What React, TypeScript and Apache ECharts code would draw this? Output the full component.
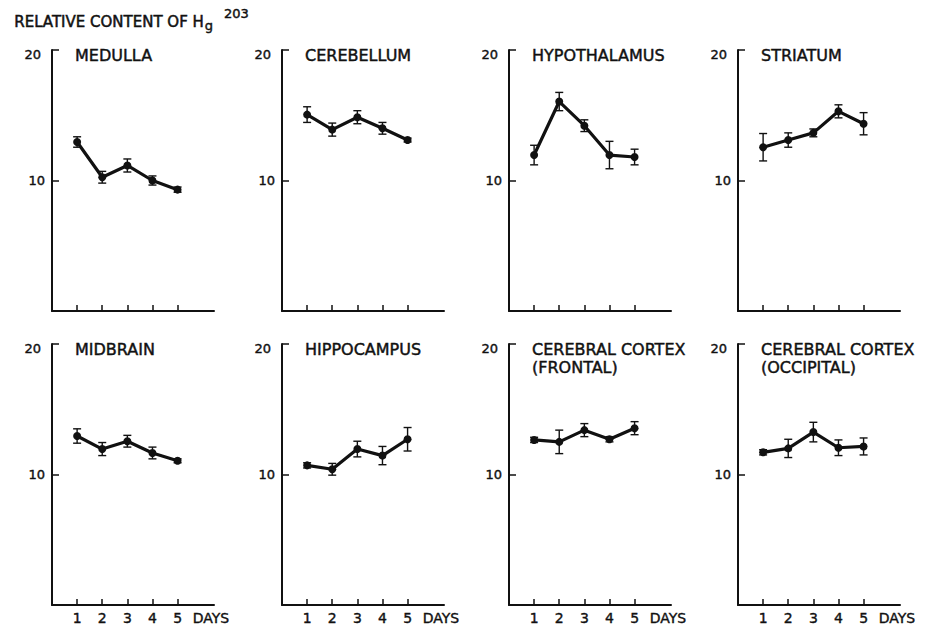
import React, { useEffect, useRef } from "react";
import * as echarts from "echarts";

// ---- data ----
const days = [1, 2, 3, 4, 5];
const panelNames = [
  "MEDULLA",
  "CEREBELLUM",
  "HYPOTHALAMUS",
  "STRIATUM",
  "MIDBRAIN",
  "HIPPOCAMPUS",
  "CEREBRAL CORTEX\n(FRONTAL)",
  "CEREBRAL CORTEX\n(OCCIPITAL)",
];
const medullaMean = [12.95, 10.25, 11.15, 10.0, 9.3];
const medullaErr = [0.4, 0.45, 0.5, 0.35, 0.2];
const cerebellumMean = [15.05, 13.9, 14.85, 14.0, 13.1];
const cerebellumErr = [0.6, 0.5, 0.5, 0.45, 0.15];
const hypothalamusMean = [11.95, 16.05, 14.2, 11.95, 11.8];
const hypothalamusErr = [0.75, 0.7, 0.45, 1.05, 0.6];
const striatumMean = [12.55, 13.1, 13.65, 15.3, 14.35];
const striatumErr = [1.05, 0.55, 0.3, 0.5, 0.85];
const midbrainMean = [12.95, 11.95, 12.55, 11.65, 11.05];
const midbrainErr = [0.55, 0.5, 0.45, 0.45, 0.15];
const hippocampusMean = [10.7, 10.4, 11.95, 11.45, 12.7];
const hippocampusErr = [0.2, 0.45, 0.6, 0.7, 0.9];
const frontalMean = [12.65, 12.5, 13.4, 12.7, 13.55];
const frontalErr = [0.2, 0.9, 0.5, 0.2, 0.5];
const occipitalMean = [11.7, 12.0, 13.25, 12.05, 12.15];
const occipitalErr = [0.2, 0.7, 0.75, 0.6, 0.65];
const yTickValues = [10, 20];
const daysLabel = "DAYS";
const headerText = "RELATIVE CONTENT OF H";
const headerSub = "g";
const headerSup = "203";

const means = [
  medullaMean,
  cerebellumMean,
  hypothalamusMean,
  striatumMean,
  midbrainMean,
  hippocampusMean,
  frontalMean,
  occipitalMean,
];
const errs = [
  medullaErr,
  cerebellumErr,
  hypothalamusErr,
  striatumErr,
  midbrainErr,
  hippocampusErr,
  frontalErr,
  occipitalErr,
];

// ---- layout ----
const FONT = '"DejaVu Sans", sans-serif';
const INK = "#111";
const AX = [52, 282, 509, 738];
const TOPS = [50, 344];
const GW = 162;
const GH = 261;
const XMAX = 6.45;
const DAYS_POS = 6.33;
const BOLDEN = { textBorderColor: INK, textBorderWidth: 0.45 };

function measure(text: string, size: number) {
  const c = document.createElement("canvas").getContext("2d");
  if (!c) return text.length * size * 0.65;
  c.font = `${size}px "DejaVu Sans"`;
  return c.measureText(text).width;
}

export default function App() {
  const ref = useRef<HTMLDivElement>(null);
  useEffect(() => {
    if (!ref.current) return;
    const chart = echarts.init(ref.current, null, { renderer: "svg" });

    const grid: any[] = [];
    const xAxis: any[] = [];
    const yAxis: any[] = [];
    const series: any[] = [];
    const title: any[] = [];

    means.forEach((m, i) => {
      const r = Math.floor(i / 4);
      const c = i % 4;
      grid.push({ left: AX[c], top: TOPS[r], width: GW, height: GH });
      xAxis.push({
        type: "value",
        gridIndex: i,
        min: 0,
        max: XMAX,
        splitLine: { show: false },
        axisLine: { onZero: false, lineStyle: { color: INK, width: 2 } },
        axisTick: {
          show: true,
          inside: true,
          length: 6,
          customValues: days,
          lineStyle: { color: INK, width: 1.5 },
        },
        axisLabel: {
          show: r === 1,
          customValues: [...days, DAYS_POS],
          formatter: (v: number) => (v > 5.5 ? daysLabel : String(v)),
          margin: 6,
          color: INK,
          fontFamily: FONT,
          fontSize: 14,
          ...BOLDEN,
          textBorderWidth: 0.4,
        },
      });
      yAxis.push({
        type: "value",
        gridIndex: i,
        min: 0,
        max: 20,
        splitLine: { show: false },
        axisLine: { onZero: false, lineStyle: { color: INK, width: 2 } },
        axisTick: {
          show: true,
          inside: true,
          length: 7,
          customValues: yTickValues,
          lineStyle: { color: INK, width: 1.5 },
        },
        axisLabel: {
          customValues: yTickValues,
          margin: 7,
          color: INK,
          fontFamily: FONT,
          fontSize: 13,
          formatter: (v: number) => (v === 20 ? "{a|20}" : "{b|" + v + "}"),
          rich: {
            a: { fontFamily: FONT, fontSize: 13, color: INK, padding: [8, 4, 0, 0], ...BOLDEN, textBorderWidth: 0.4 },
            b: { fontFamily: FONT, fontSize: 13, color: INK, ...BOLDEN, textBorderWidth: 0.4 },
          },
        },
      });
      series.push({
        type: "custom",
        xAxisIndex: i,
        yAxisIndex: i,
        data: days.map((d, j) => [d, m[j] - errs[i][j], m[j] + errs[i][j]]),
        encode: { x: 0, y: [1, 2] },
        renderItem: (params: any, api: any) => {
          const x = api.value(0);
          const lo = api.coord([x, api.value(1)]);
          const hi = api.coord([x, api.value(2)]);
          const w = 4;
          const st = { stroke: INK, lineWidth: 1.4 };
          return {
            type: "group",
            children: [
              { type: "line", shape: { x1: lo[0], y1: lo[1], x2: hi[0], y2: hi[1] }, style: st },
              { type: "line", shape: { x1: lo[0] - w, y1: lo[1], x2: lo[0] + w, y2: lo[1] }, style: st },
              { type: "line", shape: { x1: hi[0] - w, y1: hi[1], x2: hi[0] + w, y2: hi[1] }, style: st },
            ],
          };
        },
        z: 3,
      });
      series.push({
        type: "line",
        xAxisIndex: i,
        yAxisIndex: i,
        data: days.map((d, j) => [d, m[j]]),
        symbol: "circle",
        symbolSize: 8,
        lineStyle: { color: INK, width: 3.2 },
        itemStyle: { color: INK },
        z: 4,
      });
      title.push({
        text: panelNames[i],
        left: AX[c] + 23,
        top: TOPS[r] - 4,
        padding: 0,
        textStyle: {
          fontFamily: FONT,
          fontSize: 16,
          fontWeight: "normal",
          color: INK,
          lineHeight: 18,
          ...BOLDEN,
        },
      });
    });

    const hx = 14;
    const hw = measure(headerText, 15);
    const gw = measure(headerSub, 13);
    const graphic = [
      {
        type: "text",
        left: hx,
        top: 14,
        style: { text: headerText, fontFamily: FONT, fontSize: 15, fill: INK, stroke: INK, lineWidth: 0.5 },
      },
      {
        type: "text",
        left: hx + hw + 1,
        top: 19,
        style: { text: headerSub, fontFamily: FONT, fontSize: 13, fill: INK, stroke: INK, lineWidth: 0.45 },
      },
      {
        type: "text",
        left: hx + hw + gw + 12,
        top: 7,
        style: { text: headerSup, fontFamily: FONT, fontSize: 13, fill: INK, stroke: INK, lineWidth: 0.45 },
      },
    ];

    chart.setOption({
      animation: false,
      backgroundColor: "#fff",
      title,
      grid,
      xAxis,
      yAxis,
      series,
      graphic,
    });
    return () => chart.dispose();
  }, []);
  return (
    <div
      ref={ref}
      style={{ position: "fixed", left: 0, top: 0, width: 931, height: 627, background: "#fff" }}
    />
  );
}
